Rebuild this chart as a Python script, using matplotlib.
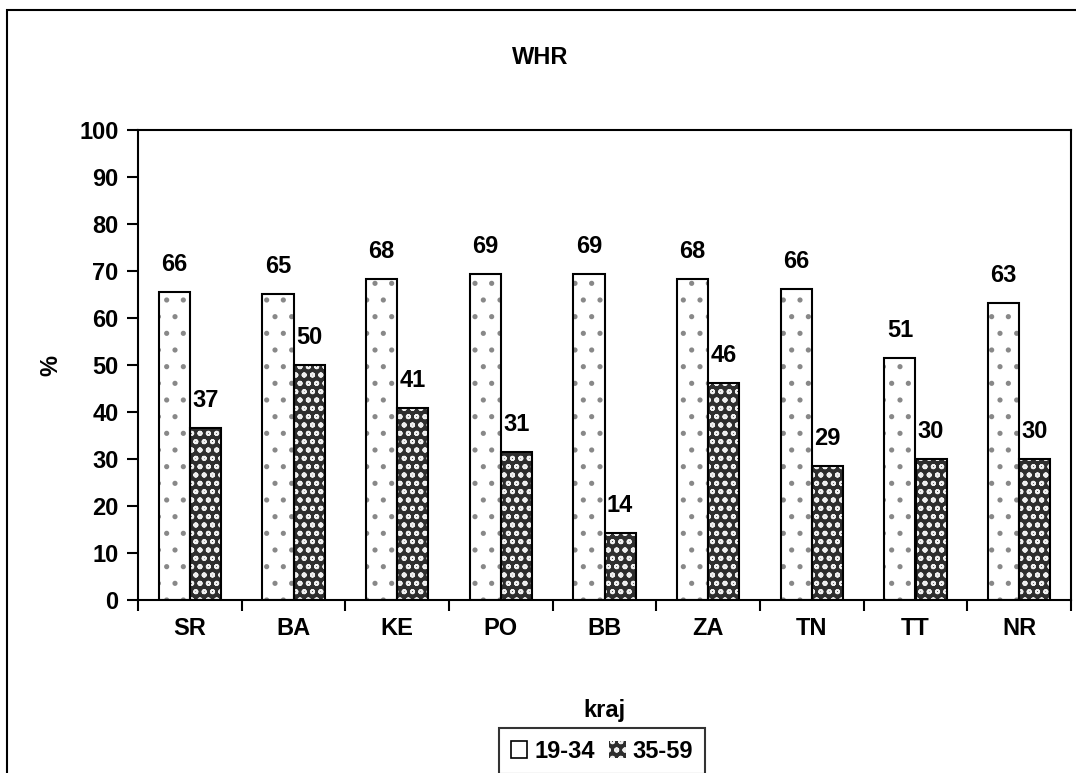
import numpy as np
import matplotlib
matplotlib.use("Agg")
import matplotlib.pyplot as plt
from matplotlib.patches import Rectangle, Patch

# data
regions = ["SR", "BA", "KE", "PO", "BB", "ZA", "TN", "TT", "NR"]
young = [65.6, 65.2, 68.3, 69.4, 69.4, 68.2, 66.1, 51.4, 63.1]
older = [36.6, 49.9, 40.9, 31.4, 14.3, 46.1, 28.6, 29.9, 29.9]
series_names = ["19-34", "35-59"]

plt.rcParams['font.family'] = ['Liberation Sans', 'DejaVu Sans']
plt.rcParams['font.weight'] = 'bold'
plt.rcParams['hatch.linewidth'] = 1.3

fs = 17

fig = plt.figure(figsize=(10.76, 7.73), dpi=100)
fig.patches.append(Rectangle((7/1076, -0.1), 1.2, 1 - 10/773 + 0.1,
                             transform=fig.transFigure, fill=False,
                             edgecolor='black', linewidth=1.5))

ax = fig.add_axes([138/1076, 1 - 600/773, 933/1076, 470/773])

x = np.arange(len(regions))
w = 0.3

# first series: white with sparse dots
ax.bar(x - w/2, young, w, facecolor='white', edgecolor='#888888',
       hatch='.', linewidth=0, zorder=2)
ax.bar(x - w/2, young, w, fill=False, edgecolor='black', linewidth=1.5, zorder=3)
# second series: dark checker with white circles
ax.bar(x + w/2, older, w, facecolor='#2e2e2e', edgecolor='#f0f0f0',
       hatch='oo', linewidth=0, zorder=2)
ax.bar(x + w/2, older, w, fill=False, edgecolor='black', linewidth=1.5, zorder=3)

for i in range(len(regions)):
    ax.text(x[i] - w/2, young[i] + 3.4, str(int(round(young[i]))),
            ha='center', va='bottom', fontsize=fs, fontweight='bold')
    ax.text(x[i] + w/2, older[i] + 3.4, str(int(round(older[i]))),
            ha='center', va='bottom', fontsize=fs, fontweight='bold')

ax.set_xlim(-0.5, len(regions) - 0.5)
ax.set_ylim(0, 100)
ax.set_yticks(range(0, 101, 10))
ax.set_xticks(x)
ax.set_xticklabels(regions)
ax.set_xticks(np.arange(-0.5, len(regions), 1), minor=True)
ax.tick_params(axis='x', which='major', length=0, pad=12, labelsize=fs)
ax.tick_params(axis='x', which='minor', length=8, width=1.5, direction='out')
ax.tick_params(axis='y', length=8, width=1.5, direction='out', pad=6, labelsize=fs)
for sp in ax.spines.values():
    sp.set_linewidth(1.5)

ax.set_xlabel("kraj", fontsize=fs, fontweight='bold', labelpad=43)
ax.set_ylabel("%", fontsize=fs, fontweight='bold', labelpad=12)
fig.text(540/1076, 1 - 57/773, "WHR", ha='center', va='center',
         fontsize=fs, fontweight='bold')

handles = [Patch(facecolor='white', edgecolor='black', linewidth=1.2),
           Patch(facecolor='#2e2e2e', edgecolor='#f0f0f0', hatch='oo', linewidth=0)]
leg = fig.legend(handles, series_names, loc='upper center',
                 bbox_to_anchor=(602/1076, 1 - 716/773), ncol=2,
                 fontsize=fs, frameon=True, fancybox=False,
                 handlelength=0.7, handleheight=0.7, handletextpad=0.3,
                 columnspacing=0.6, borderpad=0.5)
leg.get_frame().set_edgecolor('black')
leg.get_frame().set_linewidth(1.5)

fig.savefig("out.png", dpi=100)
